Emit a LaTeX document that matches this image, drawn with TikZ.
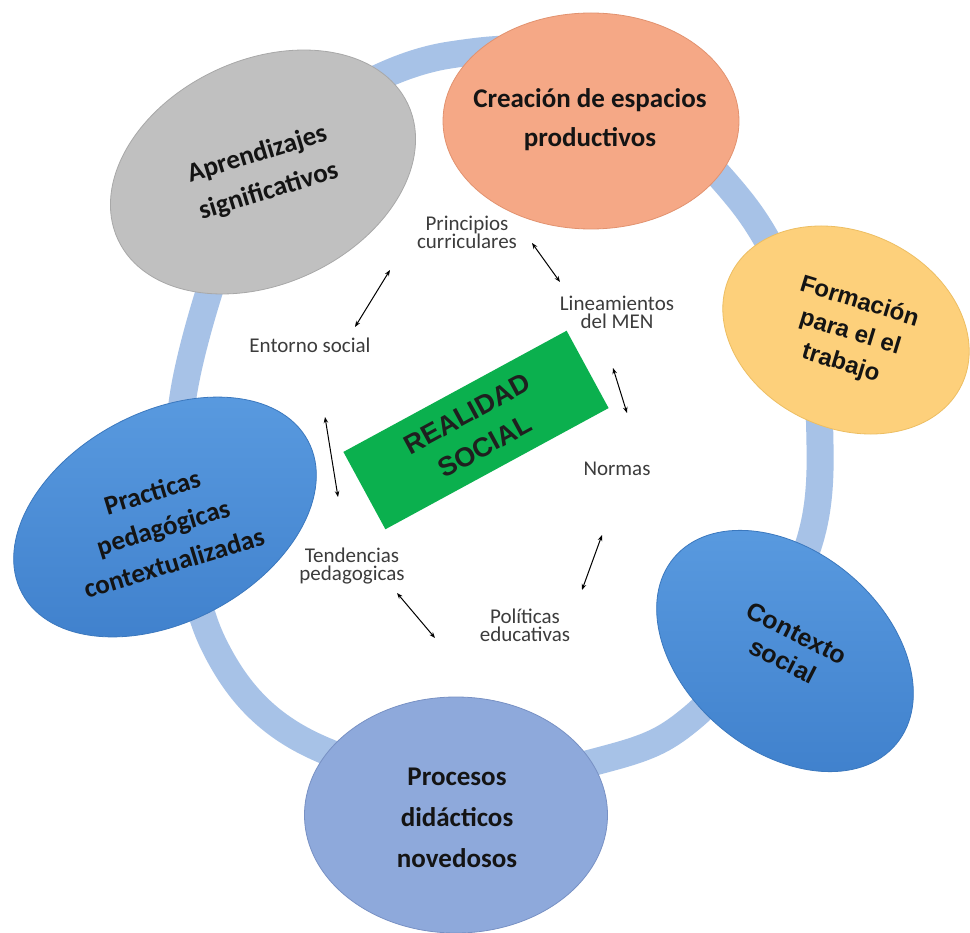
\documentclass[tikz,border=0pt]{standalone}
\usepackage{fontspec}
\setmainfont{Carlito}
\newfontfamily\arialf{Liberation Sans}
\usetikzlibrary{shapes.geometric,arrows.meta}
\definecolor{ringc}{HTML}{A7C2E7}
\definecolor{grayc}{HTML}{C0C0C0}
\definecolor{grayd}{HTML}{A8A8A8}
\definecolor{orangec}{HTML}{F5A886}
\definecolor{oranged}{HTML}{E2926F}
\definecolor{yellowc}{HTML}{FDD07B}
\definecolor{yellowd}{HTML}{EDBE62}
\definecolor{bluec}{HTML}{4C8FD8}
\definecolor{bluetop}{HTML}{5A9BE0}
\definecolor{bluebot}{HTML}{3F80CC}
\definecolor{blued}{HTML}{3B78BE}
\definecolor{perc}{HTML}{8EA9DB}
\definecolor{perd}{HTML}{7891C4}
\definecolor{greenc}{HTML}{0BB04E}
\definecolor{labc}{HTML}{3C3C3C}
\begin{document}
\begin{tikzpicture}[x=1pt,y=-1pt,
  blob/.style={ellipse, draw, line width=0.8pt, inner sep=0pt},
  blueblob/.style={blob, top color=bluetop, bottom color=bluebot, draw=blued},
  etext/.style={font=\fontsize{27}{39}\selectfont\bfseries, align=center, text=black!92},
  atext/.style={font=\arialf\fontsize{24}{32}\selectfont\bfseries, align=center, text=black!92},
  lab/.style={font=\fontsize{21}{18}\selectfont, align=center, text=labc, inner sep=1pt},
  rel/.style={{Stealth[length=6pt,width=4.5pt]}-{Stealth[length=6pt,width=4.5pt]}, line width=1pt, black}]
\useasboundingbox (0,0) rectangle (970,933);
\fill[white] (0,0) rectangle (970,933);
% ring
\draw[ringc, line width=27pt] plot[smooth cycle, tension=0.6] coordinates {(450,55) (590,66) (740,200) (806,335) (820,445) (810,540) (765,630) (693,717) (613,757) (455,782) (297,737) (213,643) (182,500) (188,370) (250,187) (330,105)};
% ellipses
\node[blob, fill=grayc, draw=grayd, minimum width=320pt, minimum height=224pt, rotate=25] (e1) at (263,172) {};
\node[blob, fill=orangec, draw=oranged, minimum width=296pt, minimum height=216pt] (e2) at (591,121) {};
\node[blob, fill=yellowc, draw=yellowd, minimum width=256pt, minimum height=196pt, rotate=-25] (e3) at (846,330) {};
\node[blueblob, minimum width=290pt, minimum height=200pt, rotate=-40] (e4) at (785,651) {};
\node[blob, fill=perc, draw=perd, minimum width=303pt, minimum height=236pt] (e5) at (456,815) {};
\node[blueblob, minimum width=324pt, minimum height=210pt, rotate=28] (e6) at (165,517) {};
% ellipse texts
\node[etext, rotate=17] (t1) at (263,173) {Aprendizajes\\significativos};
\node[etext] (t2) at (590,120) {Creación de espacios\\productivos};
\node[atext, rotate=-17] (t3) at (850,333) {Formación\\para el el\\trabajo};
\node[atext, font=\arialf\fontsize{25}{31}\selectfont\bfseries, rotate=-27] (t4) at (790,647) {Contexto\\social};
\node[etext, font=\fontsize{27}{41}\selectfont\bfseries] (t5) at (457,818) {Procesos\\didácticos\\novedosos};
\node[etext, font=\fontsize{27}{37}\selectfont\bfseries, rotate=17] (t6) at (163,527) {Practicas\\pedagógicas\\contextualizadas};
% centre
\node[fill=greenc, minimum width=254pt, minimum height=88pt, inner sep=0pt, rotate=28.5,
      font=\arialf\fontsize{27}{37}\selectfont\bfseries, text=black!88, align=center] (rs) at (476,430) {REALIDAD\\SOCIAL};
% labels
\node[lab] (l1) at (467,232) {Principios\\curriculares};
\node[lab] (l2) at (617,312) {Lineamientos\\del MEN};
\node[lab] (l3) at (310,345) {Entorno social};
\node[lab] (l4) at (617,469) {Normas};
\node[lab] (l5) at (352,566) {Tendencias\\pedagogicas};
\node[lab] (l6) at (525,625) {Políticas\\educativas};
% arrow ends
\coordinate (a1s) at (532,243); \coordinate (a1e) at (560,282);
\coordinate (a2s) at (390,270); \coordinate (a2e) at (355,327);
\coordinate (a3s) at (613,368); \coordinate (a3e) at (627,413);
\coordinate (a4s) at (325,417); \coordinate (a4e) at (338,497);
\coordinate (a5s) at (397,593); \coordinate (a5e) at (435,638);
\coordinate (a6s) at (602,535); \coordinate (a6e) at (582,590);
\draw[rel] (a1s) -- (a1e);
\draw[rel] (a2s) -- (a2e);
\draw[rel] (a3s) -- (a3e);
\draw[rel] (a4s) -- (a4e);
\draw[rel] (a5s) -- (a5e);
\draw[rel] (a6s) -- (a6e);
\end{tikzpicture}
\end{document}
